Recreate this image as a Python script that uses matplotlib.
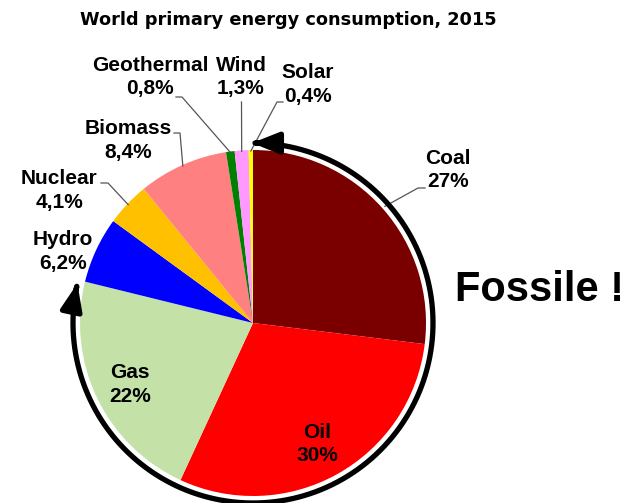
import matplotlib.pyplot as plt
import numpy as np
from matplotlib.patches import FancyArrowPatch
from matplotlib.path import Path

plt.rcParams['font.family'] = ['Liberation Sans', 'DejaVu Sans']

sources = ["Coal", "Oil", "Gas", "Hydro", "Nuclear", "Biomass", "Geothermal", "Wind", "Solar"]
shares = [27, 30, 22, 6.2, 4.1, 8.4, 0.8, 1.3, 0.4]
share_labels = ["27%", "30%", "22%", "6,2%", "4,1%", "8,4%", "0,8%", "1,3%", "0,4%"]
colors = ["#7a0000", "#ff0000", "#c4e1a8", "#0000ff", "#ffc000",
          "#ff8080", "#008000", "#ff99ff", "#ffff00"]

CX, CY, R = 253, 180, 173

fig = plt.figure(figsize=(6.31, 5.03), dpi=100)
ax = fig.add_axes([0, 0, 1, 1])

wedges, _ = ax.pie(shares, colors=colors, startangle=90, counterclock=False,
                   center=(CX, CY), radius=R, wedgeprops=dict(linewidth=0))

ax.set_xlim(0, 631)
ax.set_ylim(0, 503)
ax.set_aspect('equal')
ax.axis('off')

# label position (centre of the 2-line block) and leader knee points
label_pos = {
    "Coal": (448, 333), "Oil": (317, 59), "Gas": (130, 118.5),
    "Hydro": (63, 251.5), "Nuclear": (59, 312.5), "Biomass": (128, 362.5),
    "Geothermal": (150, 426), "Wind": (241, 426), "Solar": (308, 418.5),
}
leaders = {
    "Coal": [(418, 315), (425, 315)],
    "Nuclear": [(108, 320), (101, 320)],
    "Biomass": [(180, 370), (174, 370)],
    "Geothermal": [(182, 406), (176, 406)],
    "Wind": [(241.5, 401)],
    "Solar": [(277, 401), (283, 401)],
}

for w, name, lab in zip(wedges, sources, share_labels):
    x, y = label_pos[name]
    ax.text(x, y, name + "\n" + lab, ha='center', va='center', fontsize=15,
            fontweight='bold', linespacing=1.28, color='black')
    if name in leaders:
        mid = np.radians((w.theta1 + w.theta2) / 2)
        r_edge = R + 3 if name == "Coal" else R - 1
        pts = [(CX + r_edge * np.cos(mid), CY + r_edge * np.sin(mid))] + leaders[name]
        xs, ys = zip(*pts)
        ax.plot(xs, ys, color='#555555', lw=0.9, zorder=1)

# fossil arrow around coal, oil and gas
ang = np.radians(np.linspace(167.3, 450.3, 300))
arc = Path(np.column_stack([CX + 180 * np.cos(ang), CY + 180 * np.sin(ang)]))
ax.add_patch(FancyArrowPatch(path=arc, arrowstyle='<|-|>,head_length=1.0,head_width=0.4',
                             mutation_scale=16, lw=3.8, color='black', zorder=3))

ax.text(540, 213, "Fossile !", ha='center', va='center', fontsize=30, fontweight='bold')

ax.text(288, 483, "World primary energy consumption, 2015", ha='center', va='center',
        fontsize=12.8, fontweight='bold', family=['DejaVu Sans'])

fig.savefig("out.png", dpi=100, facecolor='white')
